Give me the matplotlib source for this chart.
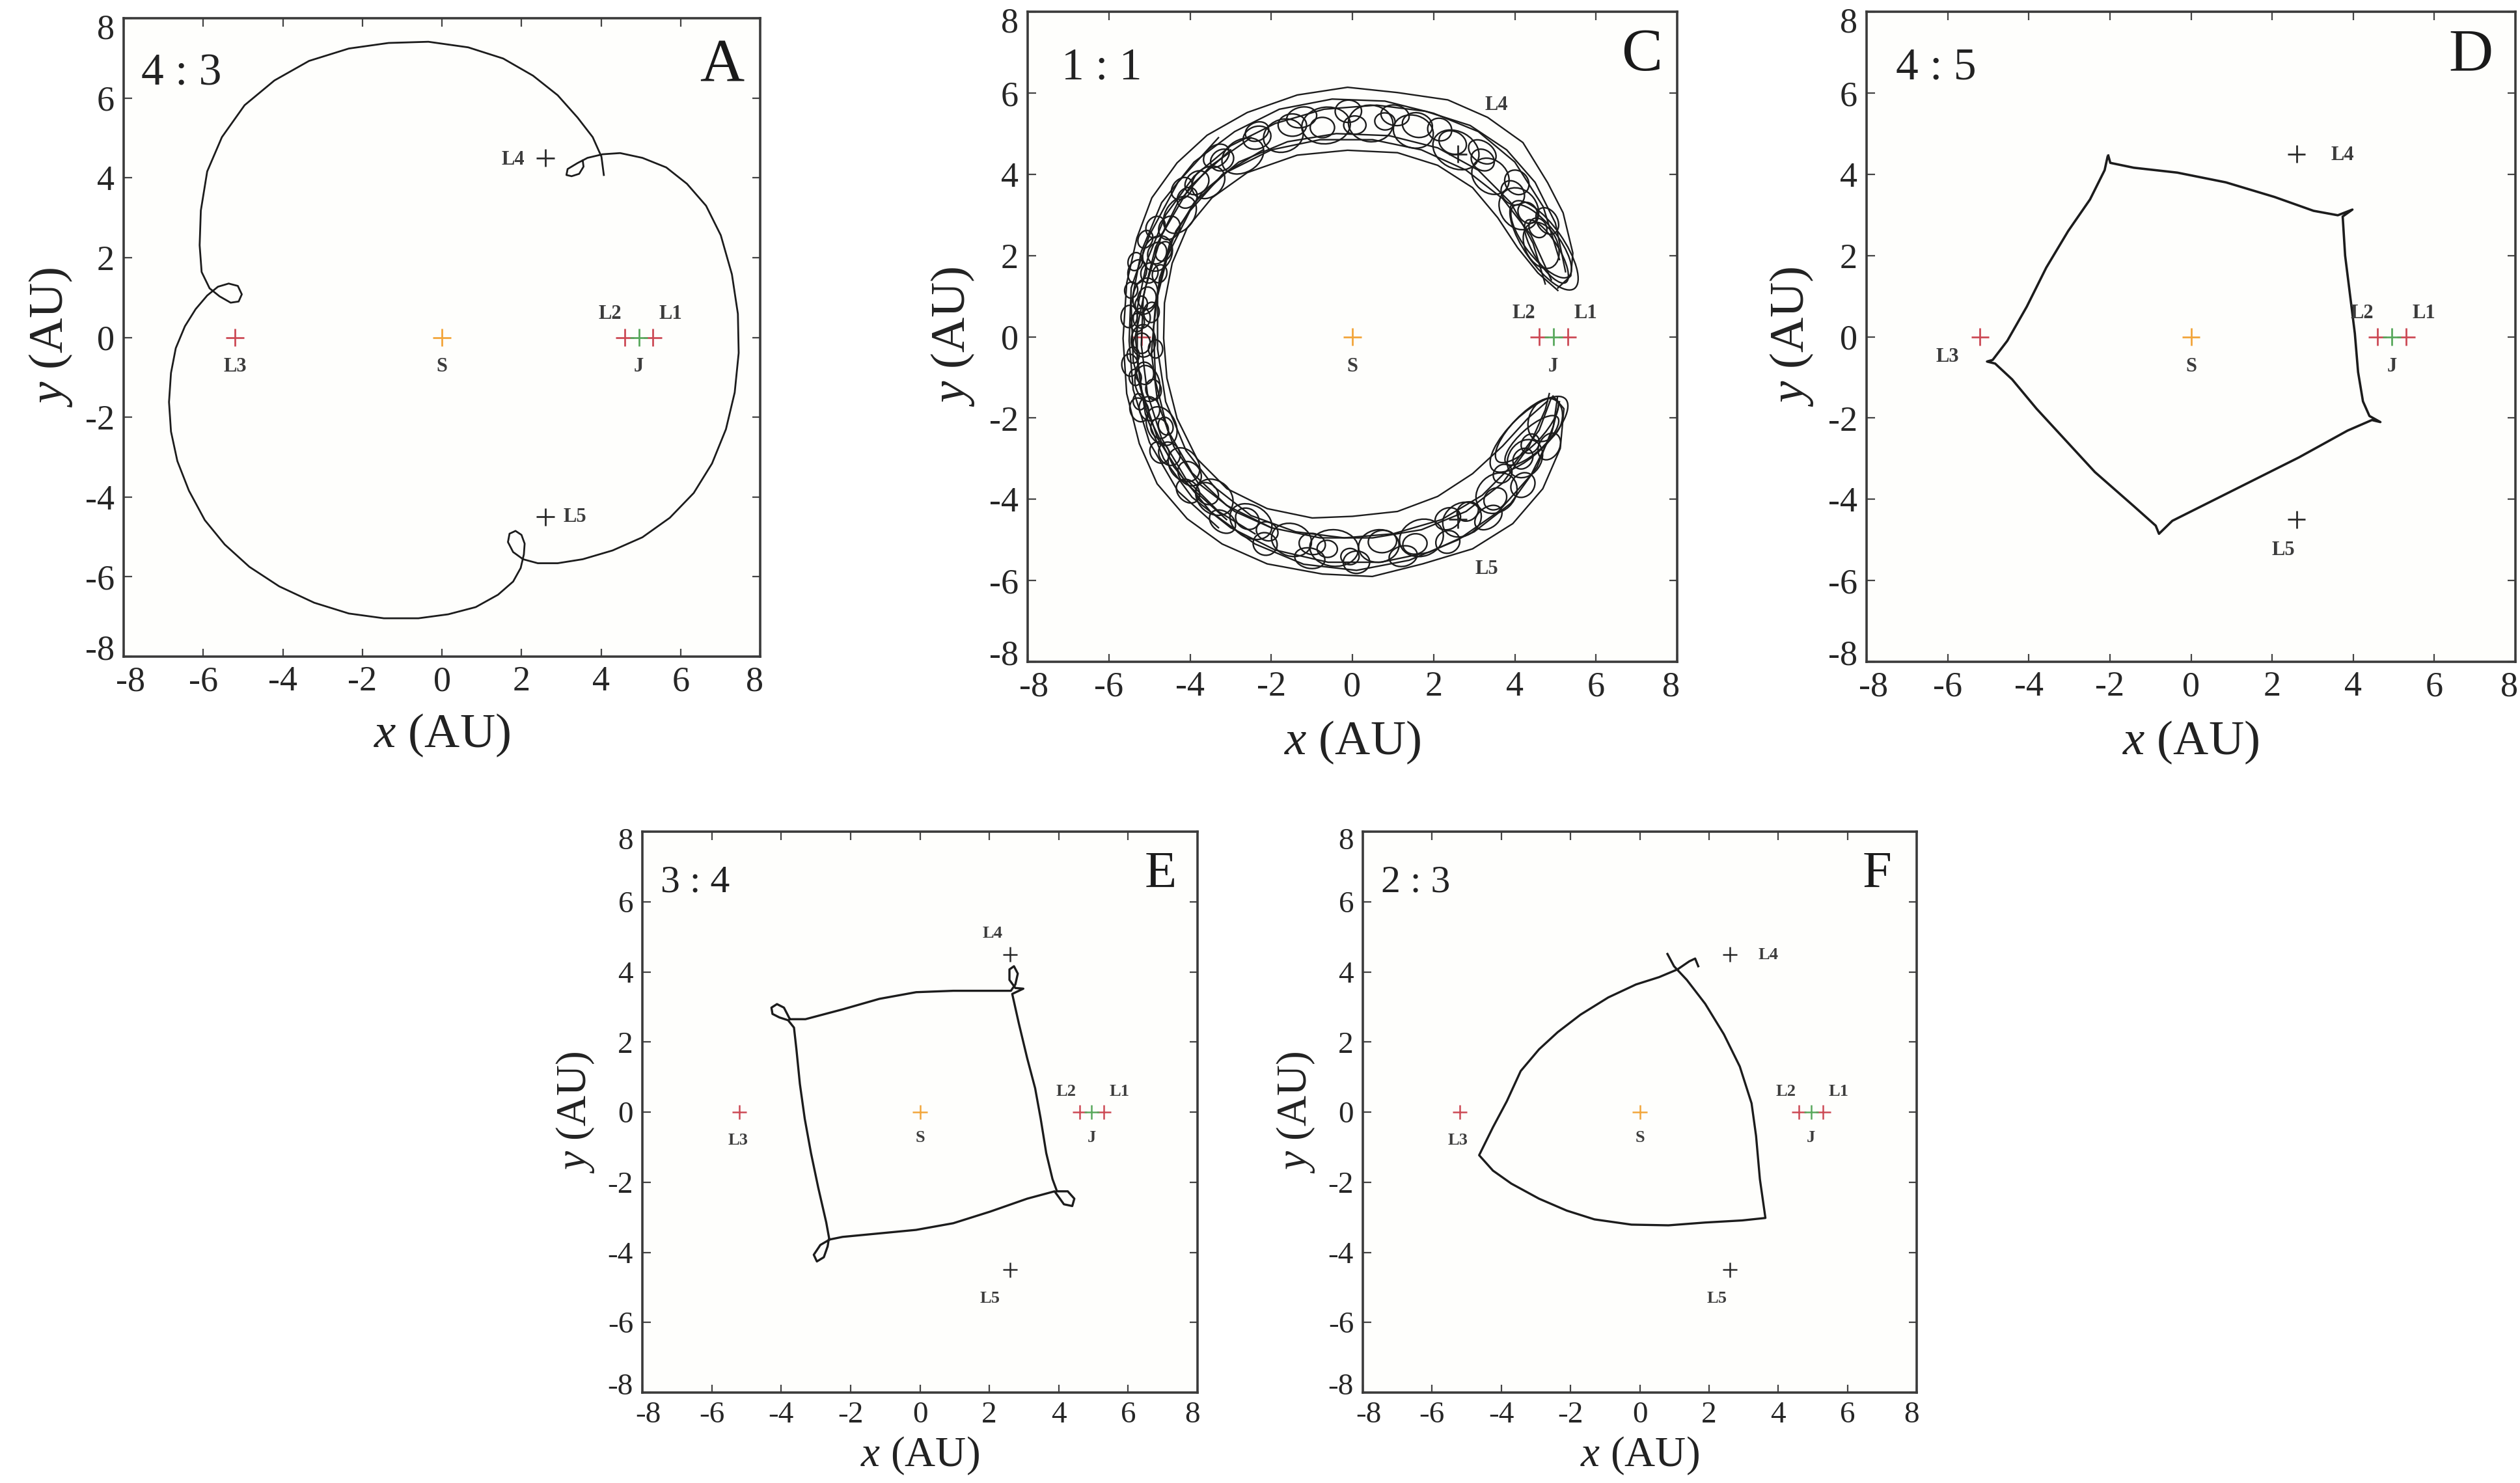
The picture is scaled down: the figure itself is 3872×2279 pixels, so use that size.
import numpy as np
import matplotlib
matplotlib.use("Agg")
import matplotlib.pyplot as plt
from matplotlib.patches import Ellipse
from matplotlib.transforms import ScaledTranslation

plt.rcParams['font.family'] = ['Liberation Serif', 'DejaVu Serif']
plt.rcParams['mathtext.fontset'] = 'custom'
plt.rcParams['mathtext.rm'] = 'Liberation Serif'
plt.rcParams['mathtext.it'] = 'Liberation Serif:italic'
plt.rcParams['axes.unicode_minus'] = False

# ---------------- data ----------------
tick_values = [-8, -6, -4, -2, 0, 2, 4, 6, 8]
tick_labels = ['-8', '-6', '-4', '-2', '0', '2', '4', '6', '8']

point_names = ['S', 'L1', 'L2', 'J', 'L3', 'L4', 'L5']
point_x = [0.0, 5.3, 4.6, 4.95, -5.2, 2.6, 2.6]
point_y = [0.0, 0.0, 0.0, 0.0, 0.0, 4.5, -4.5]
point_colors = ['#f2a53a', '#cc4a55', '#cc4a55', '#58a85c', '#cc4a55', '#2a2a2a', '#2a2a2a']

panel_letters = ['A', 'C', 'D', 'E', 'F']
panel_ratios = ['4 : 3', '1 : 1', '4 : 5', '3 : 4', '2 : 3']

# Panel A (4:3)
orbit_A_x = [4.07, 4.01, 3.79, 3.41, 2.91, 2.29, 1.54, 0.66, -0.34, -1.34, -2.34, -3.34, -4.21, -4.96, -5.53,
             -5.90, -6.06, -6.09, -6.04, -5.84, -5.59, -5.31, -5.11, -5.03, -5.13, -5.36, -5.63, -5.90, -6.19,
             -6.46, -6.69, -6.81, -6.86, -6.81, -6.65, -6.36, -5.96, -5.46, -4.84, -4.09, -3.21, -2.34, -1.46,
             -0.59, 0.16, 0.85, 1.41, 1.79, 1.98, 2.06, 2.08, 2.00, 1.85, 1.70, 1.66, 1.79, 2.04, 2.41, 2.91,
             3.54, 4.29, 5.04, 5.73, 6.33, 6.79, 7.14, 7.36, 7.46, 7.44, 7.29, 7.01, 6.64, 6.16, 5.64, 5.04,
             4.48, 4.04, 3.66, 3.41, 3.16, 3.13, 3.26, 3.45, 3.56, 3.54]
orbit_A_y = [4.07, 4.53, 5.02, 5.51, 6.07, 6.56, 6.99, 7.27, 7.41, 7.38, 7.24, 6.93, 6.44, 5.82, 5.02,
             4.16, 3.18, 2.31, 1.64, 1.23, 1.03, 0.87, 0.90, 1.08, 1.29, 1.35, 1.27, 1.05, 0.71,
             0.28, -0.27, -0.89, -1.62, -2.36, -3.10, -3.84, -4.58, -5.19, -5.75, -6.24, -6.65, -6.92, -7.04,
             -7.04, -6.94, -6.76, -6.45, -6.12, -5.78, -5.44, -5.17, -4.95, -4.85, -4.92, -5.13, -5.38, -5.56,
             -5.66, -5.66, -5.56, -5.34, -5.01, -4.52, -3.90, -3.16, -2.30, -1.38, -0.39, 0.59, 1.58, 2.56,
             3.30, 3.85, 4.26, 4.50, 4.62, 4.59, 4.50, 4.37, 4.22, 4.07, 4.04, 4.10, 4.28, 4.43]

# Panel C (1:1) - horseshoe strands
c_outer_x = [5.06, 5.38, 5.43, 5.19, 4.81, 4.20, 3.33, 2.35, 1.11, -0.12, -1.36, -2.59, -3.58, -4.32, -4.94,
             -5.31, -5.56, -5.65, -5.56, -5.25, -4.81, -4.07, -3.21, -2.10, -0.74, 0.49, 1.73, 2.96, 3.95,
             4.69, 5.12, 5.21, 4.94]
c_outer_y = [1.20, 1.50, 2.06, 3.05, 3.79, 4.78, 5.40, 5.83, 6.01, 6.14, 5.95, 5.52, 4.96, 4.28, 3.42,
             2.43, 1.32, -0.04, -1.40, -2.63, -3.62, -4.48, -5.10, -5.59, -5.84, -5.90, -5.59, -5.22, -4.60,
             -3.74, -2.75, -1.77, -1.46]
c_inner_x = [5.06, 4.57, 4.07, 3.58, 2.96, 2.10, 1.11, -0.12, -1.36, -2.59, -3.46, -4.07, -4.44, -4.63,
             -4.65, -4.57, -4.32, -3.83, -3.09, -2.10, -0.99, 0.00, 1.11, 2.10, 2.96, 3.70, 4.32, 4.81]
c_inner_y = [1.14, 1.57, 2.19, 2.93, 3.67, 4.22, 4.53, 4.59, 4.47, 4.04, 3.42, 2.68, 1.81, 0.83,
             -0.04, -1.02, -2.01, -3.00, -3.74, -4.23, -4.46, -4.42, -4.30, -3.93, -3.37, -2.69, -2.01, -1.58]
c_mid1_x = [5.25, 5.0, 4.5, 3.8, 2.9, 1.8, 0.6, -0.7, -1.9, -3.0, -3.9, -4.6, -5.05, -5.3, -5.3, -5.1,
            -4.65, -3.95, -3.0, -1.9, -0.6, 0.7, 1.9, 3.0, 3.9, 4.55, 4.95, 5.05]
c_mid1_y = [1.6, 2.8, 3.8, 4.6, 5.2, 5.55, 5.7, 5.6, 5.25, 4.7, 3.95, 3.0, 1.9, 0.7, -0.6, -1.9,
            -3.0, -3.95, -4.7, -5.25, -5.55, -5.55, -5.3, -4.8, -4.1, -3.2, -2.2, -1.5]
c_mid2_x = [4.75, 4.45, 3.9, 3.1, 2.1, 0.9, -0.4, -1.6, -2.8, -3.7, -4.35, -4.75, -4.9, -4.85, -4.55,
            -3.95, -3.1, -2.0, -0.8, 0.5, 1.7, 2.8, 3.7, 4.35, 4.75, 4.85]
c_mid2_y = [1.3, 2.3, 3.3, 4.1, 4.65, 4.95, 5.0, 4.8, 4.3, 3.55, 2.6, 1.45, 0.2, -1.1, -2.3,
            -3.35, -4.15, -4.7, -4.95, -4.95, -4.75, -4.3, -3.6, -2.7, -1.8, -1.4]
c_mid3_x = [-2.5, -3.5, -4.3, -4.85, -5.15, -5.2, -5.05, -4.7, -4.1, -3.3, -2.4]
c_mid3_y = [4.9, 4.2, 3.3, 2.2, 1.0, -0.2, -1.4, -2.5, -3.5, -4.3, -4.85]
c_mid4_x = [-2.2, -3.2, -4.0, -4.55, -4.85, -4.95, -4.8, -4.4, -3.8, -2.9, -2.0]
c_mid4_y = [4.6, 4.0, 3.1, 2.0, 0.8, -0.4, -1.6, -2.7, -3.6, -4.3, -4.7]
c_mid5_x = [-3.0, -4.0, -4.7, -5.1, -5.35, -5.2, -4.8, -4.1, -3.1]
c_mid5_y = [4.6, 3.7, 2.5, 1.2, 0.0, -1.3, -2.5, -3.6, -4.5]
c_mid6_x = [-3.3, -4.3, -5.0, -5.45, -5.5, -5.4, -5.0, -4.3, -3.3]
c_mid6_y = [4.9, 3.8, 2.5, 1.2, -0.1, -1.3, -2.6, -3.8, -4.7]
c_mid7_x = [5.1, 4.7, 4.0, 3.1, 2.0, 0.8, -0.5, -1.8, -2.9, -3.9, -4.7, -5.2, -5.45, -5.4, -5.05, -4.4,
            -3.5, -2.4, -1.2, 0.1, 1.4, 2.6, 3.6, 4.4, 4.9, 5.1]
c_mid7_y = [1.9, 3.2, 4.3, 5.05, 5.5, 5.8, 5.85, 5.6, 5.05, 4.3, 3.3, 2.1, 0.8, -0.6, -1.9, -3.2,
            -4.3, -5.1, -5.6, -5.75, -5.5, -5.0, -4.3, -3.4, -2.4, -1.6]
c_mid8_x = [4.9, 4.4, 3.7, 2.8, 1.7, 0.5, -0.8, -2.0, -3.1, -3.9, -4.5, -4.8, -4.8, -4.6, -4.1, -3.4,
            -2.5, -1.4, -0.2, 1.0, 2.2, 3.2, 4.0, 4.6, 4.9]
c_mid8_y = [1.4, 2.5, 3.4, 4.1, 4.6, 4.85, 4.85, 4.6, 4.05, 3.3, 2.3, 1.1, -0.3, -1.6, -2.8, -3.7,
            -4.4, -4.8, -4.95, -4.85, -4.5, -3.9, -3.1, -2.3, -1.5]

# small epicycle loops
c_loop_x = [-1.48, -0.74, 0.06, 0.80, 1.60, 2.47, 3.21, 3.95, 4.32, 4.57, -2.35, -3.21, -3.83, -4.07,
            -4.51, -4.81, -5.00, -5.06, -5.19, -5.19, -5.12, -5.00, -4.75, -4.51, -4.01, -3.58, -2.59,
            -2.10, -0.99, -0.62, -0.06, 0.74, 1.54, 2.35, 2.84, 3.52, 3.70, 4.20, 4.38]
c_loop_y = [5.21, 5.15, 5.21, 5.30, 5.21, 4.78, 4.35, 3.54, 3.05, 2.68, 4.90, 4.35, 3.79, 3.42,
            2.68, 2.06, 1.57, 0.95, 0.46, -0.16, -0.90, -1.77, -2.26, -2.88, -3.37, -3.86, -4.48,
            -4.79, -5.10, -5.22, -5.41, -5.04, -5.10, -4.48, -4.30, -3.99, -3.37, -3.00, -2.63]
c_loop_w = [0.70, 0.60, 0.55, 0.50, 0.75, 0.70, 0.60, 0.65, 0.55, 0.50, 0.70, 0.60, 0.65, 0.55,
            0.60, 0.55, 0.50, 0.55, 0.50, 0.50, 0.55, 0.60, 0.50, 0.60, 0.65, 0.60, 0.60,
            0.55, 0.65, 0.50, 0.45, 0.70, 0.60, 0.65, 0.55, 0.60, 0.50, 0.55, 0.50]
c_loop_h = [0.55, 0.50, 0.45, 0.42, 0.60, 0.55, 0.50, 0.52, 0.45, 0.42, 0.55, 0.50, 0.52, 0.45,
            0.50, 0.45, 0.42, 0.45, 0.42, 0.42, 0.45, 0.50, 0.42, 0.50, 0.52, 0.50, 0.50,
            0.45, 0.52, 0.42, 0.40, 0.55, 0.50, 0.52, 0.45, 0.50, 0.42, 0.45, 0.42]
c_loop_ang = [0, 0, 0, -5, -15, -25, -35, -50, -55, -60, 20, 35, 45, 50, 60, 65, 75, 80, 85, 90, 95,
              105, 115, 120, 130, 140, 150, 155, 170, 175, 180, 5, 10, 25, 30, 40, 45, 50, 55]
# large ovals spanning the band
c_big_x = [4.65, 4.10, 3.40, 2.55, 1.50, 0.45, -0.65, -1.70, -2.70, -3.55, -4.25, -4.80, -5.10, -5.15,
           -5.05, -4.70, -4.15, -3.40, -2.50, -1.50, -0.45, 0.65, 1.70, 2.70, 3.55, 4.25, 4.75]
c_big_y = [2.25, 3.15, 3.95, 4.60, 5.05, 5.25, 5.20, 4.95, 4.45, 3.80, 3.00, 2.05, 1.00, -0.10,
           -1.15, -2.20, -3.15, -3.95, -4.55, -5.00, -5.20, -5.15, -4.95, -4.50, -3.85, -3.00, -2.05]
c_big_w = [1.2, 1.1, 1.0, 1.2, 1.0, 1.1, 1.2, 1.0, 1.1, 0.9, 1.0, 0.9, 0.9, 0.8,
           0.9, 1.0, 0.9, 1.0, 1.1, 1.0, 1.2, 1.0, 1.1, 1.0, 1.1, 1.0, 1.1]
c_big_h = [0.8, 0.9, 0.8, 0.9, 0.8, 0.9, 0.9, 0.8, 0.8, 0.7, 0.7, 0.7, 0.6, 0.6,
           0.6, 0.7, 0.7, 0.8, 0.8, 0.8, 0.9, 0.8, 0.9, 0.8, 0.9, 0.8, 0.8]
c_big_ang = [115, 127, 139, 151, 163, 175, 7, 19, 31, 43, 55, 67, 79, 91,
             103, 115, 127, 139, 151, 163, 175, 7, 19, 31, 43, 55, 67]
# medium loops in the outer half of the band
c_med_x = [4.80, 4.05, 3.20, 2.15, 1.05, -0.10, -1.25, -2.35, -3.35, -4.20, -4.85, -5.30, -5.50,
           -5.48, -5.25, -4.75, -4.05, -3.20, -2.15, -1.05, 0.10, 1.25, 2.35, 3.35, 4.20, 4.85]
c_med_y = [2.85, 3.80, 4.55, 5.10, 5.45, 5.55, 5.40, 5.05, 4.45, 3.65, 2.70, 1.60, 0.50,
           -0.70, -1.80, -2.85, -3.80, -4.55, -5.10, -5.45, -5.55, -5.40, -5.05, -4.45, -3.65, -2.70]
c_med_w = [0.70, 0.65, 0.75, 0.60, 0.70, 0.65, 0.75, 0.60, 0.70, 0.60, 0.55, 0.60, 0.55,
           0.55, 0.60, 0.55, 0.65, 0.70, 0.60, 0.75, 0.65, 0.70, 0.60, 0.75, 0.65, 0.70]
c_med_h = [0.50, 0.55, 0.50, 0.55, 0.50, 0.55, 0.50, 0.45, 0.50, 0.45, 0.45, 0.45, 0.40,
           0.40, 0.45, 0.45, 0.50, 0.50, 0.55, 0.50, 0.55, 0.50, 0.55, 0.50, 0.55, 0.50]
c_med_ang = [121, 133, 145, 157, 169, 1, 13, 25, 37, 49, 61, 73, 85,
             97, 109, 121, 133, 145, 157, 169, 1, 13, 25, 37, 49, 61]
# dense small loops on the far (left) side
c_dense_x = [-5.35, -5.45, -5.30, -5.40, -4.95, -4.85, -4.90, -4.75, -5.25, -5.10, -4.65, -4.60, -5.35, -5.20]
c_dense_y = [1.85, 1.15, 0.35, -0.45, 0.60, -0.30, -1.30, 1.55, -1.60, 2.40, 2.10, -2.20, -1.00, 0.80]
c_dense_w = [0.45, 0.40, 0.45, 0.40, 0.50, 0.45, 0.50, 0.45, 0.40, 0.45, 0.50, 0.45, 0.40, 0.40]
c_dense_h = [0.35, 0.32, 0.35, 0.30, 0.38, 0.35, 0.38, 0.35, 0.30, 0.35, 0.38, 0.35, 0.30, 0.30]
c_dense_ang = [75, 80, 88, 92, 85, 92, 100, 72, 102, 65, 66, 112, 96, 84]
c_tip_x = [4.72, 4.65, 4.78, 4.35, 4.30, 4.42]
c_tip_y = [2.25, 2.35, 2.10, -2.40, -2.30, -2.55]
c_tip_len = [2.6, 2.2, 1.8, 2.5, 2.1, 1.7]
c_tip_wid = [0.95, 0.80, 0.60, 0.95, 0.75, 0.60]
c_tip_ang = [-55, -52, -58, 44, 46, 42]

# Panel D (4:5)
orbit_D_x = [-2.04, -1.99, -1.41, -0.34, 0.86, 2.06, 3.02, 3.62, 3.98, 3.74, 3.80, 3.92, 4.04, 4.12, 4.24,
             4.40, 4.67, 4.46, 3.86, 2.66, 1.46, 0.26, -0.46, -0.79, -0.87, -1.41, -2.37, -3.09, -3.81,
             -4.41, -4.83, -5.03, -4.89, -4.53, -4.05, -3.57, -3.03, -2.49, -2.13, -2.06]
orbit_D_y = [4.46, 4.28, 4.16, 4.04, 3.80, 3.44, 3.10, 2.99, 3.13, 2.96, 2.00, 1.04, 0.08, -0.87, -1.59,
             -1.95, -2.10, -2.05, -2.31, -2.97, -3.57, -4.17, -4.53, -4.85, -4.65, -4.17, -3.33, -2.55, -1.77,
             -1.05, -0.66, -0.61, -0.57, -0.10, 0.74, 1.70, 2.60, 3.38, 4.10, 4.42]

# Panel E (3:4)
orbit_E_x = [-3.75, -3.30, -2.23, -1.17, -0.11, 0.96, 2.02, 2.62, 2.75, 2.82, 2.71, 2.58, 2.58, 2.75, 2.98,
             2.66, 2.85, 3.09, 3.32, 3.48, 3.64, 3.82, 3.95, 4.26, 4.45, 4.39, 4.15, 3.99, 3.88, 3.09, 2.02,
             0.96, -0.11, -1.17, -2.23, -2.63, -2.66, -2.77, -2.97, -3.06, -2.87, -2.61, -2.70, -2.93, -3.14,
             -3.32, -3.46, -3.56, -3.63, -3.80, -4.05, -4.25, -4.28, -4.12, -3.92, -3.80, -3.75]
orbit_E_y = [2.65, 2.65, 2.93, 3.23, 3.42, 3.46, 3.46, 3.46, 3.64, 3.95, 4.16, 4.07, 3.77, 3.54, 3.52,
             3.37, 2.53, 1.54, 0.68, -0.19, -1.17, -1.91, -2.26, -2.26, -2.47, -2.68, -2.63, -2.41, -2.26,
             -2.47, -2.84, -3.17, -3.36, -3.46, -3.56, -3.64, -3.83, -4.14, -4.26, -4.07, -3.79, -3.64,
             -3.15, -2.16, -1.17, -0.19, 0.80, 1.79, 2.41, 2.62, 2.70, 2.80, 2.98, 3.08, 2.98, 2.75, 2.65]

# Panel F (2:3)
orbit_F_x = [1.69, 1.60, 1.43, 1.09, 0.56, -0.11, -0.91, -1.71, -2.37, -2.91, -3.44, -3.84, -4.24, -4.64,
             -4.24, -3.71, -2.91, -2.11, -1.31, -0.24, 0.83, 1.89, 2.96, 3.63, 3.47, 3.36, 3.23, 2.89, 2.43,
             1.89, 1.36, 0.99, 0.80]
orbit_F_y = [4.16, 4.38, 4.30, 4.07, 3.85, 3.64, 3.27, 2.78, 2.28, 1.79, 1.17, 0.31, -0.43, -1.23,
             -1.67, -2.04, -2.47, -2.81, -3.06, -3.21, -3.23, -3.15, -3.09, -3.02, -1.91, -0.68, 0.25, 1.30,
             2.22, 3.09, 3.77, 4.16, 4.51]

# ---------------- layout / style ----------------
W, H = 3872, 2279
fig = plt.figure(figsize=(W / 100, H / 100), dpi=100)
fig.patch.set_facecolor('white')

boxes = {'A': (190, 28, 978, 981), 'C': (1579, 18, 998, 999), 'D': (2868, 18, 997, 999),
         'E': (987, 1278, 853, 862), 'F': (2094, 1278, 851, 862)}
big = dict(tick=39, label=54, ratio=50, letter=68, ms=20, pt=22, xlab=-0.124, ylab=-0.115, mew=2.0, shift=1.0)
small = dict(tick=34, label=47, ratio=43, letter=58, ms=16, pt=19, xlab=-0.113, ylab=-0.121, mew=1.8, shift=0.87)
ratio_pos = {'A': (0.028, 0.945), 'C': (0.052, 0.945), 'D': (0.045, 0.945), 'E': (0.033, 0.94), 'F': (0.033, 0.94)}
letter_pos = {'A': (0.975, 0.968), 'C': (0.977, 0.975), 'D': (0.965, 0.975), 'E': (0.962, 0.965), 'F': (0.955, 0.965)}

# point labels: name -> (x, y, ha)
common_labels = {'S': (0.0, -0.74, 'center'), 'J': (4.95, -0.74, 'center'),
                 'L2': (4.22, 0.58, 'center'), 'L1': (5.75, 0.58, 'center')}
extra_labels = {
    'A': {'L3': (-5.2, -0.74, 'center'), 'L4': (2.08, 4.45, 'right'), 'L5': (3.05, -4.5, 'left')},
    'C': {'L4': (3.55, 5.7, 'center'), 'L5': (3.3, -5.72, 'center')},
    'D': {'L3': (-6.0, -0.5, 'center'), 'L4': (3.45, 4.47, 'left'), 'L5': (2.27, -5.25, 'center')},
    'E': {'L3': (-5.25, -0.8, 'center'), 'L4': (2.09, 5.09, 'center'), 'L5': (2.02, -5.31, 'center')},
    'F': {'L3': (-5.25, -0.8, 'center'), 'L4': (3.43, 4.48, 'left'), 'L5': (2.23, -5.31, 'center')},
}

line_color = '#1c1c1c'
axes = {}
for letter, ratio in zip(panel_letters, panel_ratios):
    st = big if letter in ('A', 'C', 'D') else small
    l, t, w, h = boxes[letter]
    ax = fig.add_axes([l / W, 1 - (t + h) / H, w / W, h / H])
    axes[letter] = ax
    ax.set_facecolor('#fefefc')
    ax.set_xlim(-8, 8)
    ax.set_ylim(-8, 8)
    ax.set_xticks(tick_values)
    ax.set_xticklabels(tick_labels)
    ax.set_yticks(tick_values)
    ax.set_yticklabels(tick_labels)
    ax.tick_params(direction='in', top=True, right=True, length=9, width=1.6, color='#444444',
                   labelsize=st['tick'], labelcolor='#262626', pad=10)
    # the outermost tick labels sit slightly inward, as in the original
    k = st['shift']
    xl = ax.get_xticklabels()
    yl = ax.get_yticklabels()
    xl[0].set_transform(xl[0].get_transform() + ScaledTranslation(0.10 * k, 0, fig.dpi_scale_trans))
    xl[-1].set_transform(xl[-1].get_transform() + ScaledTranslation(-0.09 * k, 0, fig.dpi_scale_trans))
    yl[0].set_transform(yl[0].get_transform() + ScaledTranslation(0, 0.15 * k, fig.dpi_scale_trans))
    yl[-1].set_transform(yl[-1].get_transform() + ScaledTranslation(0, -0.12 * k, fig.dpi_scale_trans))
    for s in ax.spines.values():
        s.set_linewidth(2.6)
        s.set_color('#3a3a3a')
    ax.set_xlabel('$x$ (AU)', fontsize=st['label'], color='#222222')
    ax.set_ylabel('$y$ (AU)', fontsize=st['label'], color='#222222')
    ax.xaxis.label.set_va('center')
    ax.yaxis.label.set_va('center')
    ax.xaxis.set_label_coords(0.5, st['xlab'])
    ax.yaxis.set_label_coords(st['ylab'], 0.5)
    rx, ry = ratio_pos[letter]
    ax.text(rx, ry, ratio, transform=ax.transAxes, ha='left', va='top', fontsize=st['ratio'], color='#222222')
    lx, ly = letter_pos[letter]
    ax.text(lx, ly, letter, transform=ax.transAxes, ha='right', va='top', fontsize=st['letter'], color='#1a1a1a')

    ax.scatter(point_x, point_y, s=st['ms'] ** 2, marker='+', c=point_colors, linewidths=st['mew'], zorder=2)
    labels = dict(common_labels)
    labels.update(extra_labels[letter])
    for name, (tx, ty, ha) in labels.items():
        ax.text(tx, ty, name, ha=ha, va='center', fontsize=st['pt'], fontweight='bold', color='#3c3c3c', zorder=4)

# orbits
axes['A'].plot(orbit_A_x, orbit_A_y, color=line_color, lw=2.0, zorder=3)
axes['D'].plot(orbit_D_x, orbit_D_y, color=line_color, lw=2.6, zorder=3)
axes['E'].plot(orbit_E_x, orbit_E_y, color=line_color, lw=2.4, zorder=3)
axes['F'].plot(orbit_F_x, orbit_F_y, color=line_color, lw=2.4, zorder=3)

axC = axes['C']
for sx, sy in [(c_outer_x, c_outer_y), (c_inner_x, c_inner_y), (c_mid1_x, c_mid1_y),
               (c_mid2_x, c_mid2_y), (c_mid3_x, c_mid3_y), (c_mid4_x, c_mid4_y),
               (c_mid5_x, c_mid5_y), (c_mid6_x, c_mid6_y), (c_mid7_x, c_mid7_y), (c_mid8_x, c_mid8_y)]:
    axC.plot(sx, sy, color=line_color, lw=1.7, zorder=3)
for xs, ys, ws, hs, angs in [(c_loop_x, c_loop_y, c_loop_w, c_loop_h, c_loop_ang),
                             (c_big_x, c_big_y, c_big_w, c_big_h, c_big_ang),
                             (c_med_x, c_med_y, c_med_w, c_med_h, c_med_ang),
                             (c_dense_x, c_dense_y, c_dense_w, c_dense_h, c_dense_ang),
                             (c_tip_x, c_tip_y, c_tip_len, c_tip_wid, c_tip_ang)]:
    for cx, cy, cw, ch, ca in zip(xs, ys, ws, hs, angs):
        axC.add_patch(Ellipse((cx, cy), cw, ch, angle=ca, fill=False, ec=line_color, lw=1.7, zorder=3))

fig.savefig('out.png', dpi=100, facecolor='white')
